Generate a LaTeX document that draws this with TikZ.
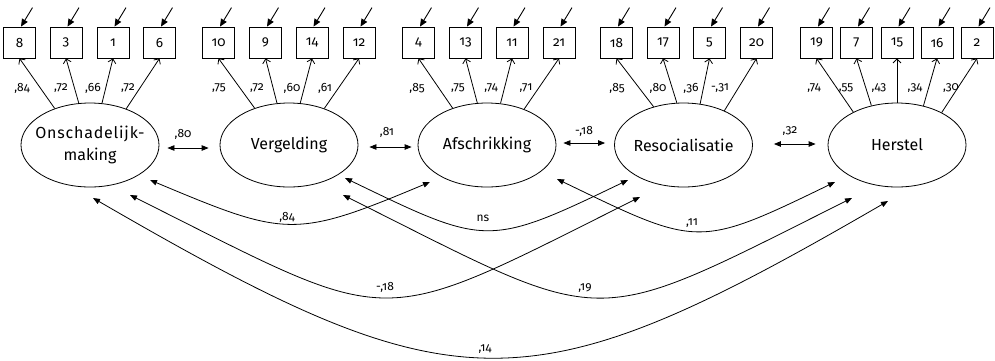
\documentclass[tikz,border=0pt]{standalone}
\usepackage{fontspec}
\setmainfont{Fira Sans}[Numbers=OldStyle]
\usetikzlibrary{shapes.geometric,arrows.meta}
\begin{document}
\begin{tikzpicture}[x=1pt,y=-1pt,
  lat/.style={ellipse,draw,line width=0.8pt,minimum width=138pt,minimum height=84pt,inner sep=0pt},
  ltxt/.style={font=\fontsize{16}{22}\selectfont,align=center,inner sep=0pt},
  obs/.style={rectangle,draw,line width=0.8pt,minimum width=32pt,minimum height=31pt,inner sep=0pt,font=\fontsize{13.5}{13.5}\selectfont},
  load/.style={line width=0.8pt,-{Straight Barb[length=4pt,width=8pt]}},
  err/.style={line width=0.9pt,-{Triangle[length=7.5pt,width=6.5pt]}},
  cor/.style={line width=0.8pt,{Triangle[length=7pt,width=5.5pt]}-{Triangle[length=7pt,width=5.5pt]}},
  lbl/.style={font=\fontsize{12}{12}\selectfont,inner sep=1pt}]
\useasboundingbox (0,0) rectangle (995,360);

% latent variables
\node[lat] (o) at (90,145) {};
\node[lat] (v) at (289,145) {};
\node[lat] (a) at (487,145) {};
\node[lat] (r) at (683.5,145) {};
\node[lat] (h) at (897,145) {};
\node[ltxt] (ot) at (o.center) {{\addfontfeatures{LetterSpace=5}Onschadelijk-}\\making};
\node[ltxt] (vt) at (v.center) {Vergelding};
\node[ltxt] (at) at (a.center) {Afschrikking};
\node[ltxt] (rt) at (r.center) {Resocialisatie};
\node[ltxt] (ht) at (h.center) {Herstel};

% indicators
\foreach \n/\x in {8/19.5,3/66,1/113,6/159.5,10/218.5,9/265.5,14/312,12/359,
                   4/418.5,13/465.5,11/512,21/559,18/616.5,17/663,5/709.5,20/756.5,
                   19/816.5,7/856.5,15/897,16/937,2/977}{
  \node[obs] (b\n) at (\x,42.5) {\n};
  \draw[err] ([shift={(13,-19)}]b\n.north) -- ([xshift=1.5pt]b\n.north);
}

% loadings
\foreach \e/\b/\ang/\lx/\lt in {o/8/134/22/{,84},o/3/105/61/{,72},o/1/74/93/{,66},o/6/45/128/{,72},
  v/10/133/219/{,75},v/9/106/257/{,72},v/14/75/292/{,60},v/12/46/325/{,61},
  a/4/133/417/{,85},a/13/103.5/458/{,75},a/11/72/491/{,74},a/21/44/526/{,71},
  r/18/128/617/{,85},r/17/99.5/658/{,80},r/5/68.6/691/{,36},r/20/40.5/720/{-,31},
  h/19/143.6/814/{,74},h/7/123.7/846/{,55},h/15/90/879/{,43},h/16/56.3/915/{,34},h/2/36.4/951/{,30}}{
  \draw[load] (\e.\ang) -- (b\b.south);
  \node[lbl] (l\b) at (\lx,88) {\lt};
}

% correlations between neighbours
\draw[cor] ([xshift=8pt,yshift=-3pt]o.east) -- ([xshift=-11pt,yshift=-3pt]v.west);
\draw[cor] ([xshift=11pt,yshift=-2pt]v.east) -- ([xshift=-6pt,yshift=-2pt]a.west);
\draw[cor] ([xshift=7pt,yshift=2pt]a.east) -- ([xshift=-9pt,yshift=2pt]r.west);
\draw[cor] ([xshift=21pt,yshift=1pt]r.east) -- ([xshift=-12pt,yshift=1pt]h.west);
\node[lbl] (c1) at (183,134) {,80};
\node[lbl] (c2) at (387,132) {,81};
\node[lbl] (c3) at (584,131) {-,18};
\node[lbl] (c4) at (790,131) {,32};

% end points of curved correlations
\coordinate (o1) at ([shift={(60,35)}]o.center);
\coordinate (o2) at ([shift={(40,50)}]o.center);
\coordinate (o3) at ([shift={(3,53)}]o.center);
\coordinate (v1) at ([shift={(56,33)}]v.center);
\coordinate (v2) at ([shift={(54,50)}]v.center);
\coordinate (a1) at ([shift={(-57,37)}]a.center);
\coordinate (a2) at ([shift={(70,34)}]a.center);
\coordinate (r1) at ([shift={(-55.5,35)}]r.center);
\coordinate (r2) at ([shift={(-43.5,52)}]r.center);
\coordinate (h1) at ([shift={(-62,37)}]h.center);
\coordinate (h2) at ([shift={(-45,53)}]h.center);
\coordinate (h3) at ([shift={(-9,56)}]h.center);

\draw[cor] (o1) .. controls (286,237) and (294,239) .. (a1);
\draw[cor] (v1) .. controls (486,246) and (487,248) .. (r1);
\draw[cor] (a2) .. controls (698,247) and (697,249) .. (h1);
\draw[cor] (o2) .. controls (400,330) and (370,332) .. (r2);
\draw[cor] (v2) .. controls (613,330) and (584,332) .. (h2);
\draw[cor] (o3) .. controls (457,409) and (526,411) .. (h3);

\node[lbl] (k1) at (287,217) {,84};
\node[lbl] (k2) at (483,218) {ns};
\node[lbl] (k3) at (692,223) {,11};
\node[lbl] (k4) at (385,287) {-,18};
\node[lbl] (k5) at (585,288) {,19};
\node[lbl] (k6) at (485,349) {,14};
\end{tikzpicture}
\end{document}
